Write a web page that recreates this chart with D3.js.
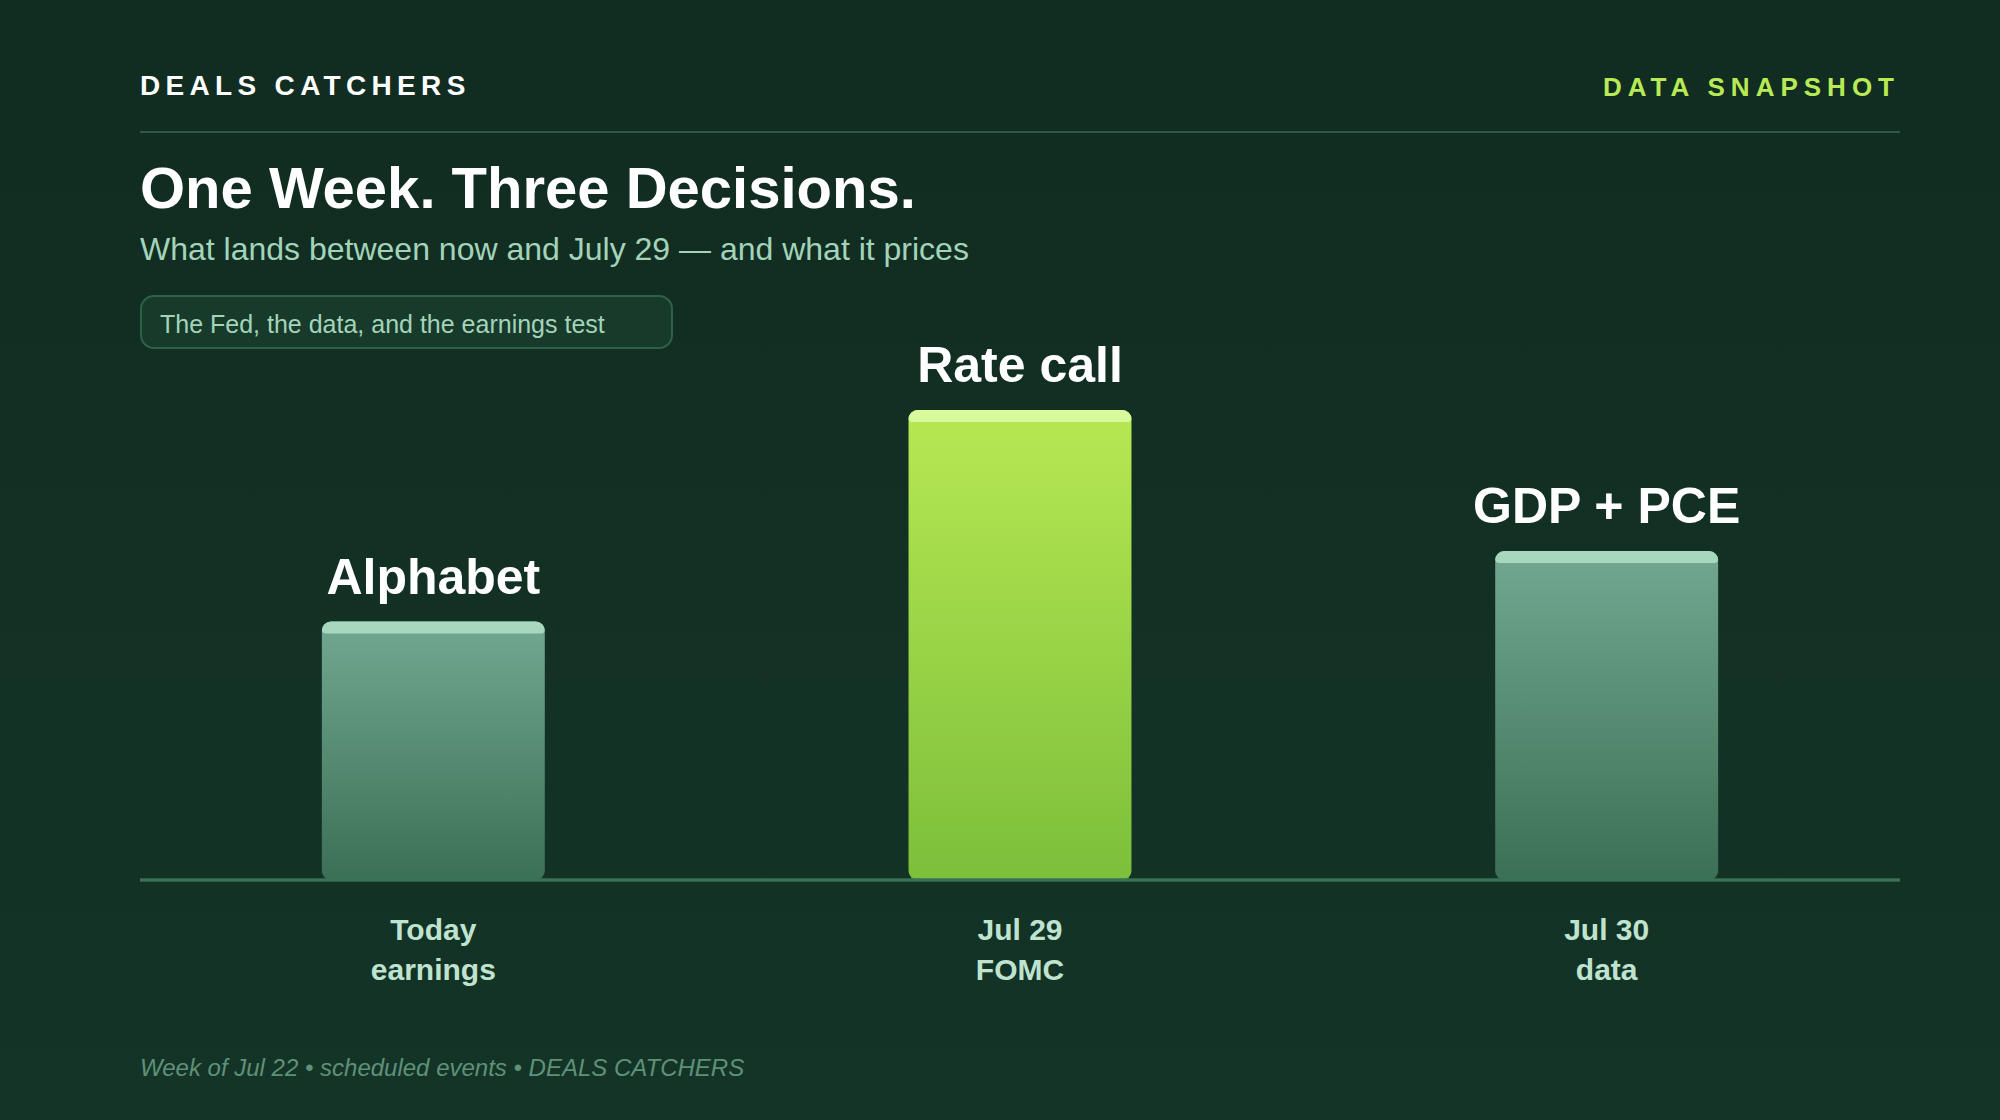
<!DOCTYPE html>
<html><head><meta charset="utf-8">
<script src="https://cdn.jsdelivr.net/npm/d3@7/dist/d3.min.js"></script>
<style>html,body{margin:0;padding:0;background:#122c21;overflow:hidden}svg{display:block}text{font-family:"Liberation Sans",Arial,sans-serif}</style>
</head><body><div id="chart"></div>
<script>
const categories = ["Alphabet", "Rate call", "GDP + PCE"];
const values = [55, 100, 70];
const tickLines = [["Today", "earnings"], ["Jul 29", "FOMC"], ["Jul 30", "data"]];
const highlighted = ["Rate call"];

const W = 2000, H = 1120;
const svg = d3.select("#chart").append("svg").attr("width", W).attr("height", H);
const defs = svg.append("defs");
const bg = defs.append("linearGradient").attr("id","bg").attr("x1",0).attr("y1",0).attr("x2",0).attr("y2",1);
bg.append("stop").attr("offset",0).attr("stop-color","#112c21");
bg.append("stop").attr("offset",1).attr("stop-color","#143428");
const g1 = defs.append("linearGradient").attr("id","gLime").attr("x1",0).attr("y1",0).attr("x2",0).attr("y2",1);
g1.append("stop").attr("offset",0).attr("stop-color","#b7e853");
g1.append("stop").attr("offset",1).attr("stop-color","#7cbf3a");
const g2 = defs.append("linearGradient").attr("id","gMute").attr("x1",0).attr("y1",0).attr("x2",0).attr("y2",1);
g2.append("stop").attr("offset",0).attr("stop-color","#72a791");
g2.append("stop").attr("offset",1).attr("stop-color","#3c7055");

svg.append("rect").attr("width",W).attr("height",H).attr("fill","url(#bg)");

const T = (x,y,s,size,fill,extra={}) => {
  const t = svg.append("text").attr("x",x).attr("y",y).attr("font-size",size).attr("fill",fill).text(s);
  Object.entries(extra).forEach(([k,v])=>t.attr(k,v));
  return t;
};
T(140,95,"DEALS CATCHERS",28,"#ffffff",{"font-weight":700,"letter-spacing":"5.32px"});
T(1900,96,"DATA SNAPSHOT",26,"#b9ea55",{"font-weight":700,"letter-spacing":"6px","text-anchor":"end"});
svg.append("rect").attr("x",140).attr("y",131).attr("width",1760).attr("height",2).attr("fill","#2c5a45");
T(140,208,"One Week. Three Decisions.",58,"#ffffff",{"font-weight":700});
T(140,260,"What lands between now and July 29 — and what it prices",32,"#a3d4ba");
svg.append("rect").attr("x",141).attr("y",296).attr("width",531).attr("height",52).attr("rx",13).attr("fill","#183a2b").attr("stroke","#2f6049").attr("stroke-width",2);
T(160,333,"The Fed, the data, and the earnings test",25,"#a3d4ba");

const x = d3.scaleBand().domain(categories).range([140,1900]).paddingInner(0.62).paddingOuter(0.31);
const y = d3.scaleLinear().domain([0,100]).range([880,410]);
const barPath = (px,top,w,bottom,rt,rb) => `M${px},${top+rt}A${rt},${rt} 0 0 1 ${px+rt},${top}H${px+w-rt}A${rt},${rt} 0 0 1 ${px+w},${top+rt}V${bottom-rb}A${rb},${rb} 0 0 1 ${px+w-rb},${bottom}H${px+rb}A${rb},${rb} 0 0 1 ${px},${bottom-rb}Z`;

const bars = svg.append("g").selectAll("g").data(categories).join("g");
bars.append("path")
  .attr("d",(d,i)=>barPath(x(d),y(values[i]),x.bandwidth(),y(0),9,9))
  .attr("fill",d=>highlighted.includes(d)?"url(#gLime)":"url(#gMute)");
bars.append("path")
  .attr("d",(d,i)=>barPath(x(d),y(values[i]),x.bandwidth(),y(values[i])+12,9,4))
  .attr("fill",d=>highlighted.includes(d)?"#d9f99d":"#a7d8bd");
bars.append("text")
  .attr("x",d=>x(d)+x.bandwidth()/2)
  .attr("y",(d,i)=>y(values[i])-28)
  .attr("text-anchor","middle").attr("font-size",50).attr("font-weight",700).attr("fill","#fff")
  .text(d=>d);

const axis = d3.axisBottom(x).tickSize(0).tickSizeOuter(0).tickPadding(0).tickFormat("");
const ax = svg.append("g").attr("transform","translate(0,880)").call(axis);
ax.select(".domain").attr("stroke","#3a7256").attr("stroke-width",3.5).attr("d","M140,0H1900");
ax.selectAll(".tick text").remove();
ax.selectAll(".tick").each(function(d,i){
  const t = d3.select(this).append("text").attr("text-anchor","middle")
    .attr("font-size",30).attr("font-weight",700).attr("fill","#bfe3cf");
  tickLines[i].forEach((s,k)=>t.append("tspan").attr("x",0).attr("y",60+k*40).text(s));
});
T(140,1076,"Week of Jul 22 • scheduled events • DEALS CATCHERS",24,"#5f9178",{"font-style":"italic"});
</script></body></html>
